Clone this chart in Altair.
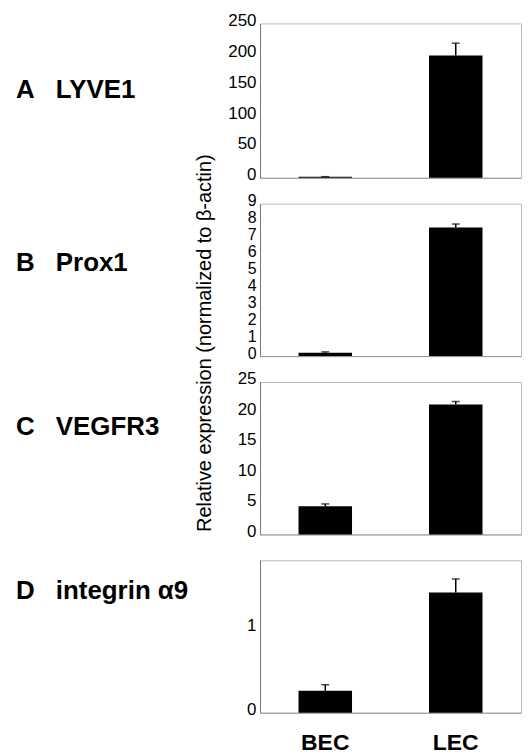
import altair as alt
import pandas as pd

FONT = "Liberation Sans"

cells = ["BEC", "LEC"]
letters = ["A", "B", "C", "D"]
genes = ["LYVE1", "Prox1", "VEGFR3", "integrin α9"]
means = [[1.5, 198.0], [0.2, 7.6], [4.6, 21.3], [0.26, 1.42]]
errors = [[0.3, 20.0], [0.05, 0.2], [0.4, 0.5], [0.07, 0.16]]
y_max = [250, 9, 25, 1.8]
y_ticks = [[0, 50, 100, 150, 200, 250], list(range(10)), [0, 5, 10, 15, 20, 25], [0, 1]]
y_title = "Relative expression (normalized to β-actin)"

heights = [155, 153, 153, 153]
label_y = [67, 60, 45, 31]
tick_font = [17, 16, 17, 17]
W = 262


def panel(i):
    df = pd.DataFrame({
        "cell": cells,
        "mean": means[i],
        "top": [m + e for m, e in zip(means[i], errors[i])],
    })
    last = i == 3
    x = alt.X(
        "cell:N", sort=cells,
        scale=alt.Scale(paddingInner=0.59, paddingOuter=0.295),
        axis=alt.Axis(
            title=None, labels=last, ticks=False, domain=True, domainColor="#999",
            labelAngle=0, labelFont=FONT, labelFontSize=23, labelFontWeight="bold",
            labelPadding=19, labelColor="black",
        ),
    )
    yscale = alt.Scale(domain=[0, y_max[i]], nice=False, zero=True)
    yaxis = alt.Axis(
        values=y_ticks[i], title=None, grid=False, ticks=False, labelPadding=4,
        labelFont=FONT, labelFontSize=tick_font[i], labelOffset=-3, labelOverlap=False,
        labelColor="black", domainColor="#777", format="d",
    )
    base = alt.Chart(df)
    bars = base.mark_bar(color="black").encode(
        x=x, y=alt.Y("mean:Q", scale=yscale, axis=yaxis))
    rule = base.mark_rule(color="black", strokeWidth=1.5).encode(
        x=x, y=alt.Y("mean:Q", scale=yscale, axis=yaxis), y2="top:Q")
    cap = base.mark_tick(color="black", thickness=1.5, size=8).encode(
        x=x, y=alt.Y("top:Q", scale=yscale, axis=yaxis))
    letter = alt.Chart(pd.DataFrame({"t": [letters[i]]})).mark_text(
        align="left", baseline="middle", font=FONT, fontSize=26, fontWeight="bold",
        color="black").encode(x=alt.value(-245), y=alt.value(label_y[i]), text="t:N")
    gene = alt.Chart(pd.DataFrame({"t": [genes[i]]})).mark_text(
        align="left", baseline="middle", font=FONT, fontSize=26, fontWeight="bold",
        color="black").encode(x=alt.value(-205), y=alt.value(label_y[i]), text="t:N")
    layers = [bars, rule, cap, letter, gene]
    if i == 1:
        title = alt.Chart(pd.DataFrame({"t": [y_title]})).mark_text(
            align="center", baseline="middle", angle=270, font=FONT, fontSize=20,
            color="black").encode(x=alt.value(-55), y=alt.value(140), text="t:N")
        layers.append(title)
    return alt.layer(*layers).properties(width=W, height=heights[i])


chart = alt.vconcat(*[panel(i) for i in range(4)], spacing=26, bounds="flush").properties(
    padding={"left": 7, "top": 1, "right": 0, "bottom": 0}
).configure_view(stroke="#bbb", strokeWidth=1)

chart.save("out.html", embed_options={"renderer": "svg", "actions": False})
